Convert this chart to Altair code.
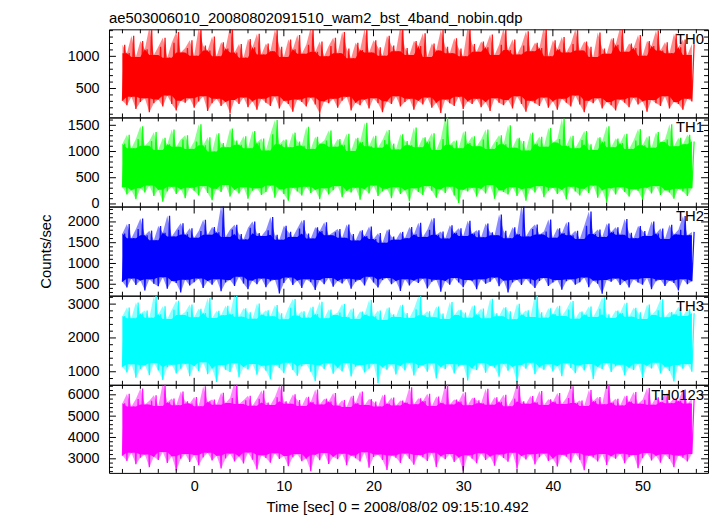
import altair as alt
import pandas as pd

# ---------------- data (per 0.5 s bin: low / high excursion) -------------
T_START = -8.0
T_STEP = 0.5

TH0_hi = [1180, 1050, 1320, 990, 1240, 1110, 1460, 1020, 1150, 1290, 980, 1210, 1380, 1060, 1130, 1250,
          1010, 1440, 1170, 1090, 1310, 1000, 1220, 1120, 1470, 1060, 1190, 980, 1270, 1140, 1350, 1030,
          1200, 1080, 1420, 1150, 990, 1260, 1110, 1330, 1040, 1180, 1450, 1070, 1230, 1000, 1160, 1290,
          1050, 1380, 1120, 970, 1210, 1100, 1430, 1060, 1250, 1140, 1010, 1320, 1170, 1080, 1480, 1130,
          1020, 1240, 1160, 1360, 990, 1200, 1090, 1410, 1150, 1050, 1280, 1120, 1000, 1460, 1190, 1070,
          1230, 1140, 1340, 1020, 1180, 1440, 1100, 1260, 1030, 1170, 1390, 1080, 1210, 1130, 1470, 1000,
          1250, 1110, 1300, 1060, 1190, 1420, 1090, 1230, 1150, 990, 1370, 1120, 1040, 1280, 1180, 1450,
          1070, 1200, 1130, 1330, 1010, 1240, 1160, 1400, 1090, 1220, 1050, 1350, 1140, 1260, 1020, 1190]
TH0_lo = [310, 240, 370, 180, 290, 350, 130, 270, 330, 220, 390, 260, 160, 310, 280, 350,
          200, 300, 380, 150, 270, 340, 230, 290, 120, 320, 260, 360, 210, 300, 170, 340,
          280, 230, 380, 190, 310, 260, 140, 330, 290, 220, 360, 250, 110, 300, 270, 340,
          200, 310, 370, 160, 280, 240, 330, 190, 350, 270, 130, 300, 260, 380, 220, 290,
          340, 170, 310, 250, 360, 200, 280, 120, 330, 270, 230, 370, 180, 300, 260, 340,
          210, 290, 150, 350, 280, 240, 320, 190, 380, 260, 140, 310, 270, 230, 360, 200,
          300, 170, 340, 280, 220, 390, 250, 130, 310, 270, 350, 190, 290, 240, 160, 330,
          280, 210, 360, 250, 300, 140, 320, 270, 230, 380, 190, 290, 260, 170, 340, 300]

TH1_hi = [1150, 1320, 1060, 1240, 1480, 1110, 1200, 1370, 1030, 1260, 1140, 1420, 1090, 1230, 1310, 1050,
          1190, 1520, 1120, 1270, 1000, 1350, 1160, 1080, 1440, 1210, 1130, 1290, 1060, 1390, 1170, 1250,
          1020, 1330, 1600, 1140, 1230, 1080, 1360, 1190, 1110, 1470, 1050, 1280, 1150, 1210, 1400, 1090,
          1240, 1130, 1340, 1010, 1260, 1180, 1550, 1100, 1300, 1070, 1220, 1410, 1150, 1040, 1330, 1200,
          1120, 1460, 1080, 1270, 1190, 1350, 1030, 1240, 1660, 1130, 1210, 1060, 1380, 1160, 1290, 1100,
          1230, 1420, 1050, 1180, 1310, 1140, 1500, 1070, 1260, 1200, 1020, 1360, 1150, 1280, 1090, 1450,
          1170, 1240, 1630, 1110, 1300, 1060, 1220, 1390, 1140, 1030, 1270, 1190, 1480, 1080, 1250, 1160,
          1340, 1050, 1210, 1430, 1120, 1290, 1070, 1370, 1180, 1230, 1520, 1100, 1260, 1140, 1320, 1190]
TH1_lo = [320, 180, 260, 90, 300, 220, 350, 150, 270, 40, 240, 330, 190, 280, 110, 310,
          250, 160, 340, 210, 70, 290, 230, 360, 140, 270, 200, 320, 100, 250, 300, 170,
          230, 350, 120, 280, 190, 60, 310, 240, 160, 330, 210, 270, 90, 300, 180, 260,
          340, 130, 250, 220, 310, 80, 280, 200, 350, 150, 240, 290, 110, 320, 190, 260,
          50, 300, 230, 170, 340, 250, 120, 280, 210, 330, 160, 20, 270, 240, 310, 140,
          290, 200, 360, 100, 260, 230, 180, 320, 150, 280, 60, 300, 220, 340, 130, 250,
          310, 190, 270, 90, 330, 240, 160, 290, 210, 350, 120, 260, 30, 300, 180, 320,
          230, 140, 280, 250, 80, 310, 200, 340, 170, 260, 220, 100, 290, 240, 150, 300]

TH2_hi = [1720, 1950, 1610, 1830, 2080, 1680, 1790, 1560, 1900, 1740, 2150, 1650, 1810, 1970, 1700, 1850,
          1620, 1780, 2050, 1690, 1880, 1750, 2400, 1640, 1820, 1930, 1710, 1580, 1860, 2010, 1730, 1660,
          1800, 2120, 1690, 1570, 1910, 1760, 1640, 1840, 2040, 1720, 1600, 1870, 1780, 1990, 1680, 1750,
          1830, 1620, 1940, 1710, 1550, 1800, 1660, 1890, 1590, 1730, 1500, 1820, 1650, 1570, 1760, 1610,
          1880, 1700, 1980, 1640, 1810, 2090, 1690, 1770, 1600, 1920, 1740, 1850, 1660, 2030, 1720, 1800,
          1630, 1960, 1750, 1680, 2180, 1790, 1610, 1870, 1710, 2420, 1650, 1830, 1940, 1700, 1770, 2060,
          1620, 1850, 1730, 1990, 1680, 1790, 1590, 1910, 2250, 1710, 1820, 1640, 1960, 1760, 1870, 1690,
          2070, 1740, 1610, 1900, 1780, 1660, 2010, 1720, 1840, 1590, 1930, 1700, 1810, 2140, 1680, 1760]
TH2_lo = [560, 420, 640, 480, 590, 350, 620, 510, 450, 670, 390, 580, 530, 300, 610, 470,
          550, 640, 410, 580, 490, 620, 330, 540, 600, 460, 680, 520, 380, 590, 500, 640,
          430, 570, 610, 280, 530, 660, 480, 590, 410, 620, 550, 360, 600, 500, 650, 440,
          580, 520, 630, 390, 560, 610, 470, 680, 540, 420, 600, 650, 500, 580, 340, 620,
          470, 590, 530, 640, 400, 560, 610, 320, 580, 490, 650, 540, 430, 600, 570, 380,
          620, 510, 560, 660, 450, 590, 300, 540, 610, 480, 630, 520, 410, 580, 650, 460,
          540, 600, 370, 570, 620, 490, 550, 660, 430, 590, 510, 270, 600, 560, 640, 480,
          580, 420, 620, 540, 490, 650, 380, 570, 610, 460, 590, 530, 350, 620, 500, 570]

TH3_hi = [2650, 2900, 2580, 3050, 2720, 2810, 2600, 3250, 2700, 2940, 2560, 2830, 3100, 2680, 2770, 2990,
          2610, 2860, 2740, 3180, 2590, 2800, 2670, 2950, 2710, 3300, 2630, 2880, 2760, 2570, 3020, 2690,
          2820, 2640, 2970, 2730, 2550, 2890, 3150, 2660, 2790, 2600, 2920, 2710, 3070, 2580, 2840, 2680,
          2750, 3000, 2620, 2870, 2560, 2780, 2690, 3120, 2640, 2810, 2530, 2900, 2700, 2620, 2980, 2740,
          2590, 2850, 3230, 2670, 2790, 2610, 2930, 2720, 2560, 3060, 2680, 2830, 2750, 2600, 2960, 2700,
          2870, 2580, 3160, 2730, 2640, 2910, 2790, 2550, 3010, 2690, 2820, 2620, 3280, 2760, 2600, 2880,
          2710, 2950, 2650, 2840, 3090, 2570, 2780, 2690, 2930, 2620, 2860, 3200, 2700, 2590, 2810, 2740,
          3040, 2630, 2890, 2760, 2560, 2990, 2680, 2820, 3140, 2610, 2770, 2700, 2920, 2650, 2850, 2730]
TH3_lo = [1150, 980, 1220, 820, 1080, 1190, 900, 1260, 1040, 760, 1130, 1210, 950, 1090, 1240, 870,
          1170, 1020, 1280, 930, 1100, 700, 1200, 1060, 990, 1250, 840, 1140, 1070, 1230, 910, 1180,
          1030, 780, 1210, 1110, 960, 1270, 1050, 880, 1160, 1230, 1000, 720, 1190, 1080, 1250, 940,
          1120, 1010, 1260, 860, 1150, 1200, 980, 1090, 1240, 660, 1130, 1060, 1220, 920, 1170, 1040,
          1270, 890, 1110, 1190, 1000, 1250, 800, 1140, 1080, 1230, 950, 1160, 1210, 740, 1100, 1050,
          1260, 970, 1180, 1120, 850, 1240, 1030, 1150, 690, 1200, 1090, 1270, 930, 1130, 1060, 1220,
          1010, 1170, 870, 1250, 1110, 960, 1190, 1040, 1230, 790, 1140, 1080, 1260, 990, 1160, 1210,
          900, 1120, 1050, 1240, 830, 1180, 1100, 1270, 950, 1150, 1020, 710, 1200, 1090, 1230, 1000]

TH0123_hi = [5600, 6050, 5450, 5800, 6300, 5550, 5720, 5980, 5480, 6550, 5650, 5830, 5510, 6150, 5700, 5590,
             5900, 5460, 6400, 5680, 5780, 5530, 6100, 5620, 5850, 6600, 5570, 5740, 5950, 5490, 5810, 6200,
             5640, 5520, 5880, 6450, 5700, 5580, 6020, 5760, 5470, 5910, 5660, 6250, 5540, 5820, 5690, 6080,
             5500, 5750, 5430, 5960, 5610, 6150, 5520, 5800, 5680, 5450, 6000, 5590, 5870, 5500, 5730, 5640,
             6350, 5560, 5840, 5710, 6050, 5480, 5920, 5630, 6500, 5550, 5780, 5690, 6120, 5510, 5860, 5740,
             5600, 6280, 5530, 5890, 5670, 6000, 5460, 5820, 6550, 5700, 5580, 5940, 5650, 6180, 5520, 5790,
             5680, 6080, 5570, 5850, 6400, 5620, 5730, 5480, 6220, 5710, 5900, 5560, 6600, 5640, 5810, 5500,
             5950, 5690, 6130, 5580, 5770, 6320, 5530, 5880, 5660, 6050, 5610, 5840, 5720, 6250, 5590, 5800]
TH0123_lo = [3150, 2900, 3280, 2750, 3050, 3200, 2600, 3100, 2950, 3320, 2800, 3120, 2450, 3000, 3230, 2850,
             3180, 2700, 3060, 3290, 2920, 3140, 2550, 3020, 3250, 2880, 3110, 2780, 3300, 2960, 2500, 3170,
             3040, 2820, 3260, 2990, 3130, 2650, 3080, 3220, 2890, 3010, 2420, 3190, 2930, 3270, 2760, 3100,
             2980, 3240, 2700, 3150, 3030, 2870, 3310, 2580, 3090, 3200, 2940, 2480, 3160, 3050, 2810, 3250,
             3000, 2720, 3180, 3070, 2900, 3280, 2620, 3120, 2980, 3230, 2850, 3060, 2440, 3170, 3010, 2790,
             3260, 2950, 3110, 2680, 3200, 3040, 2860, 3290, 2530, 3130, 2970, 3210, 2740, 3080, 3250, 2900,
             3020, 2640, 3190, 3100, 2830, 3270, 2960, 2470, 3150, 3060, 2880, 3230, 2710, 3120, 3000, 3240,
             2790, 3090, 3180, 2560, 3030, 3270, 2920, 3140, 2820, 3210, 2990, 2600, 3160, 3050, 2870, 3230]

LABELS = ["TH0", "TH1", "TH2", "TH3", "TH0123"]
COLORS = ["#ff0000", "#00ff00", "#0000ff", "#00ffff", "#ff00ff"]
HI = [TH0_hi, TH1_hi, TH2_hi, TH3_hi, TH0123_hi]
LO = [TH0_lo, TH1_lo, TH2_lo, TH3_lo, TH0123_lo]
Y_DOMAINS = [[50, 1420], [-50, 1650], [225, 2370], [615, 3250], [2340, 6470]]
Y_MAJOR = [[500, 1000], [0, 500, 1000, 1500], [500, 1000, 1500, 2000], [1000, 2000, 3000],
           [3000, 4000, 5000, 6000]]
Y_MINOR_STEP = [100, 100, 100, 200, 200]
HEIGHTS = [89, 90, 90, 90, 89]

X_DOMAIN = [-9.5, 57.3]
X_MAJOR = [0, 10, 20, 30, 40, 50]
X_MINOR_STEP = 2
X_TITLE = "Time [sec] 0 = 2008/08/02 09:15:10.492"
Y_TITLE = "Counts/sec"
MAIN_TITLE = "ae503006010_20080802091510_wam2_bst_4band_nobin.qdp"

W = 605
FONT = "Liberation Sans"


def minor_ticks(lo, hi, step, major):
    start = int((lo // step + 1) * step)
    return [v for v in range(start, int(hi) + 1, step) if v not in major and lo < v < hi]


def panel(i):
    H = HEIGHTS[i]
    times = [T_START + T_STEP * k for k in range(len(HI[i]))]
    wide = pd.DataFrame({"t": times, "lo": LO[i], "hi": HI[i]})
    rows = []
    for t, a, b in zip(times, LO[i], HI[i]):
        rows.append({"t": t, "v": a})
        rows.append({"t": t + T_STEP / 2, "v": b})
    zig = pd.DataFrame(rows)

    xs = alt.Scale(domain=X_DOMAIN, nice=False, zero=False)
    ys = alt.Scale(domain=Y_DOMAINS[i], nice=False, zero=False)
    last = i == len(LABELS) - 1
    if last:
        xaxis = alt.Axis(values=X_MAJOR, ticks=False, tickSize=0, grid=False, domain=False,
                         labelPadding=7, title=X_TITLE, titlePadding=6, titleX=291, format="d")
    else:
        xaxis = None
    yaxis = alt.Axis(values=Y_MAJOR[i], ticks=False, tickSize=0, grid=False, domain=False,
                     labelPadding=10, format="d",
                     title=Y_TITLE if i == 2 else None, titlePadding=14)

    X = lambda: alt.X("t:Q", scale=xs, axis=xaxis)
    Y = lambda f="v": alt.Y(f + ":Q", scale=ys, axis=yaxis)

    fringe = alt.Chart(wide).mark_area(color=COLORS[i], clip=True, opacity=0.45).encode(
        x=X(), y=Y("lo"), y2="hi:Q")

    core = alt.Chart(wide).transform_window(
        core_lo="max(lo)", core_hi="min(hi)", frame=[-1, 1], sort=[alt.SortField("t")]
    ).mark_area(color=COLORS[i], clip=True, opacity=1).encode(
        x=X(), y=Y("core_lo"), y2="core_hi:Q")

    line = alt.Chart(zig).mark_line(color=COLORS[i], strokeWidth=1.3, clip=True,
                                    opacity=0.9).encode(x=X(), y=Y())

    ymaj = pd.DataFrame({"v": Y_MAJOR[i]})
    ymin = pd.DataFrame({"v": minor_ticks(Y_DOMAINS[i][0], Y_DOMAINS[i][1], Y_MINOR_STEP[i], Y_MAJOR[i])})
    xmaj = pd.DataFrame({"t": X_MAJOR})
    xmin = pd.DataFrame({"t": minor_ticks(X_DOMAIN[0], X_DOMAIN[1], X_MINOR_STEP, X_MAJOR)})

    layers = [fringe, core, line]
    for d, L in ((ymaj, 7), (ymin, 4)):
        layers.append(alt.Chart(d).mark_rule(color="black", strokeWidth=1).encode(
            y=Y(), x=alt.value(0), x2=alt.value(L)))
        layers.append(alt.Chart(d).mark_rule(color="black", strokeWidth=1).encode(
            y=Y(), x=alt.value(W), x2=alt.value(W - L)))
    for d, L in ((xmaj, 7), (xmin, 4)):
        layers.append(alt.Chart(d).mark_rule(color="black", strokeWidth=1).encode(
            x=X(), y=alt.value(0), y2=alt.value(L)))
        layers.append(alt.Chart(d).mark_rule(color="black", strokeWidth=1).encode(
            x=X(), y=alt.value(H), y2=alt.value(H - L)))

    lab = pd.DataFrame({"lab": [LABELS[i]]})
    layers.append(alt.Chart(lab).mark_text(align="right", baseline="alphabetic", fontSize=15,
                                           font=FONT, color="black").encode(
        x=alt.value(W - 4), y=alt.value(15), text="lab:N"))

    ch = alt.layer(*layers).properties(width=W, height=H)
    if i == 0:
        ch = ch.properties(title=alt.TitleParams(MAIN_TITLE, anchor="start", frame="group",
                                                 fontSize=15, font=FONT, fontWeight="normal",
                                                 color="black", offset=3))
    return ch


chart = alt.vconcat(*[panel(i) for i in range(5)], spacing=0, bounds="flush").properties(
    padding={"left": 30, "top": 0, "right": 0, "bottom": 0}
).configure_view(stroke="black", strokeWidth=1).configure_axis(
    labelFont=FONT, titleFont=FONT, labelFontSize=14.5, titleFontSize=15,
    labelColor="black", titleColor="black", titleFontWeight="normal"
)

chart.save("out.html", embed_options={"renderer": "svg", "actions": False})
